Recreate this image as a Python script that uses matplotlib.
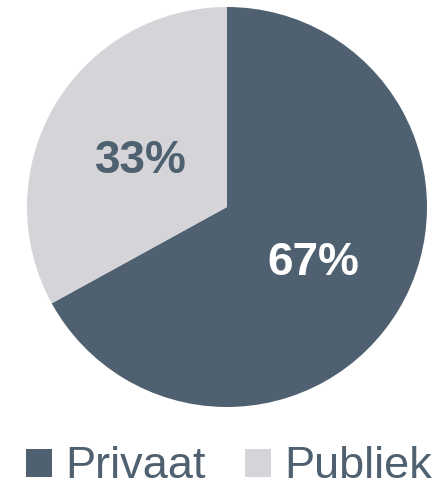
import matplotlib.pyplot as plt
from matplotlib.patches import Patch

plt.rcParams['font.family'] = ['Liberation Sans', 'DejaVu Sans']

# data
labels = ['Privaat', 'Publiek']
shares = [67, 33]
colors = ['#4f6170', '#d4d4d9']
text_colors = ['white', '#4f6170']

fig = plt.figure(figsize=(4.48, 4.91), dpi=100)
ax = fig.add_axes([27 / 448, 84 / 491, 400 / 448, 400 / 491])

wedges, texts, autotexts = ax.pie(shares, colors=colors, startangle=90, counterclock=False,
                                  autopct='%1.0f%%', pctdistance=0.5, radius=1.0,
                                  wedgeprops=dict(linewidth=0))
for t, c in zip(autotexts, text_colors):
    t.set_color(c)
    t.set_fontsize(33)
    t.set_fontweight('bold')
    t.set_verticalalignment('center_baseline')

ax.set_xlim(-1, 1)
ax.set_ylim(-1, 1)
ax.set_aspect('equal')

handles = [Patch(facecolor=c, edgecolor='none') for c in colors]
leg = fig.legend(handles, labels, loc='center', bbox_to_anchor=(229 / 448, 1 - 467 / 491),
                 ncol=2, frameon=False, fontsize=32.5, handlelength=0.58, handleheight=0.58,
                 handletextpad=0.3, columnspacing=0.85, borderpad=0)
for t in leg.get_texts():
    t.set_color('#4f6170')

fig.savefig('out.png', dpi=100)
